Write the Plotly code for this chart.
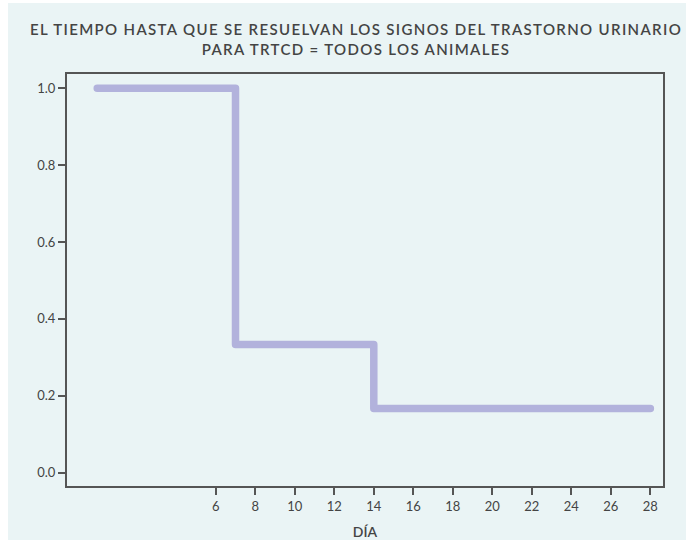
import plotly.graph_objects as go

# Data
days = [0, 7, 14, 28]
survival = [1.0, 0.3333, 0.1667, 0.1667]
x_ticks = [6, 8, 10, 12, 14, 16, 18, 20, 22, 24, 26, 28]
y_ticks = [0.0, 0.2, 0.4, 0.6, 0.8, 1.0]
y_tick_labels = ["0.0", "0.2", "0.4", "0.6", "0.8", "1.0"]
title_lines = ["EL TIEMPO HASTA QUE SE RESUELVAN LOS SIGNOS DEL TRASTORNO URINARIO",
               "PARA TRTCD = TODOS LOS ANIMALES"]
x_title = "DÍA"

BG = "#eaf4f5"
LINE = "#b2b2dc"
AX = "#555555"
TXT = "#444444"

fig = go.Figure()
fig.add_trace(go.Scatter(
    x=days, y=survival, mode="lines", line_shape="hv",
    line=dict(color=LINE, width=7.5), showlegend=False, hoverinfo="skip"))

fig.update_layout(
    width=678, height=537,
    paper_bgcolor=BG, plot_bgcolor=BG,
    margin=dict(l=59, r=23, t=71, b=54),
    font=dict(family="Lato", color=TXT, size=13),
    title=dict(text="<br>".join(title_lines), x=0.5133, xanchor="center",
               y=0.94, yanchor="top", yref="container",
               font=dict(family="Lato", size=15, color=TXT, weight=600)),
    xaxis=dict(range=[-1.53, 28.64], tickvals=x_ticks, ticks="outside", ticklen=7,
               tickwidth=2, tickcolor=AX, showline=True, linecolor=AX, linewidth=2,
               mirror=True, showgrid=False, zeroline=False, automargin=False,
               title=dict(text=x_title, font=dict(size=14, weight=600), standoff=15),
               tickfont=dict(size=13, color=TXT)),
    yaxis=dict(range=[-0.035, 1.037], tickvals=y_ticks, ticktext=y_tick_labels,
               ticks="outside", ticklen=7, tickwidth=2, tickcolor=AX, showline=True,
               linecolor=AX, linewidth=2, mirror=True, showgrid=False, zeroline=False,
               automargin=False, tickfont=dict(size=13, color=TXT)),
)

post = """
document.body.style.margin = '3px 0 0 8px';
document.body.style.overflow = 'hidden';
document.querySelectorAll('.gtitle').forEach(function(t){ t.style.letterSpacing = '1.35px'; });
document.querySelectorAll('.scatterlayer .js-line').forEach(function(p){
  p.style.strokeLinejoin = 'round'; p.style.strokeLinecap = 'round';
});
"""

fig.write_html("out.html", post_script=post)
